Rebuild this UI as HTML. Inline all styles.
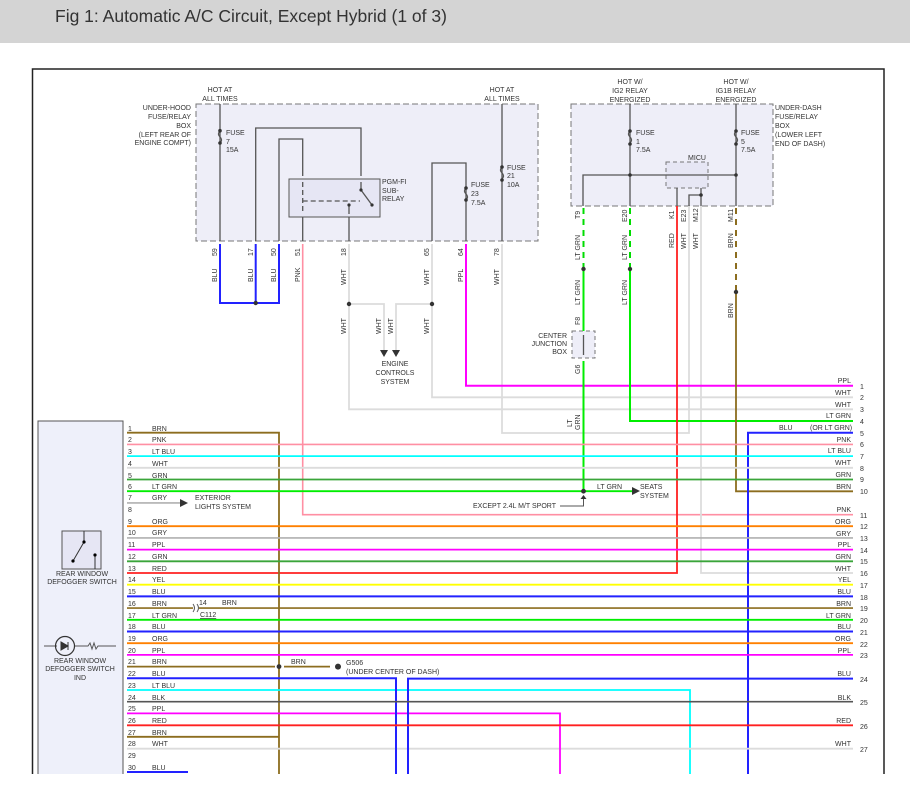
<!DOCTYPE html>
<html><head><meta charset="utf-8"><style>
body{margin:0;background:#fff;width:910px;height:808px;overflow:hidden}
svg{display:block}
text{font-family:"Liberation Sans",sans-serif;font-size:7px;fill:#333}
</style></head><body>
<svg width="910" height="808" viewBox="0 0 910 808">
<rect x="0" y="0" width="910" height="43" fill="#d4d4d4"/>
<text x="55" y="22" style="font-size:17.5px;fill:#333">Fig 1: Automatic A/C Circuit, Except Hybrid (1 of 3)</text>
<path d="M32.5 775V69H884V775" fill="none" stroke="#222" stroke-width="1.5"/>

<!-- boxes -->
<rect x="196" y="104" width="342" height="137" fill="#eeeef8" stroke="#777" stroke-dasharray="6,3"/>
<rect x="571" y="104" width="202" height="102" fill="#eeeef8" stroke="#777" stroke-dasharray="6,3"/>
<rect x="289" y="179" width="91" height="38" fill="#e6e6f4" stroke="#555"/>
<rect x="666" y="162" width="42" height="26" fill="#e6e6f4" stroke="#777" stroke-dasharray="4,3"/>
<rect x="572" y="331" width="23" height="27" fill="#eeeef8" stroke="#777" stroke-dasharray="4,3"/>
<rect x="38" y="421" width="85" height="360" fill="#eef0fa" stroke="#555"/>

<g fill="none" stroke-width="1.3">
<path d="M220 104V241M255.7 241V128H361V176M279 241V139H302.7V176M302.7 217V241M349 217V241M432 241V163H466V241M502 104V241" stroke="#555"/>
<path d="M630 104V206M583 206V175H736M736 104V206M708 175H736M677 188V206M701 188V206M689 206V195H701" stroke="#555"/>
<path d="M583.5 335V355" stroke="#555"/>
<path d="M220 244V303H279V244M255.7 244V303" stroke="#2222ff" stroke-width="2"/>
<path d="M302.7 244V514.7H853" stroke="#ff8fa3" stroke-width="1.6"/>
<path d="M349 244V409.3H853M349 304H384V350M432 244V397.3H853M432 304H396V350M502 244V433H689V206M701 206V573H853" stroke="#dcdcdc" stroke-width="1.8"/>
<path d="M466 244V385.7H853" stroke="#ff00ff" stroke-width="2"/>
<path d="M583.5 208V269M630 208V269" stroke="#00dd00" stroke-width="2" stroke-dasharray="6,5"/>
<path d="M736 208V292" stroke="#8c6d1f" stroke-width="2" stroke-dasharray="6,5"/>
<path d="M583.5 269V331M583.5 361V491M630 269V421H853" stroke="#00ee00" stroke-width="2"/>
<path d="M736 292V491.3H853" stroke="#8c6d1f" stroke-width="1.8"/>
<path d="M853 432.7H748V775" stroke="#2222ff" stroke-width="2"/>
<path d="M677 206V573H127" stroke="#ff2020" stroke-width="1.8"/>
<path d="M127 432.7H279V775M127 736.8H279M127 666.6H275M284 666.6H330" stroke="#8c6d1f" stroke-width="1.8"/>
<path d="M127 444.4H853" stroke="#ff8fa3" stroke-width="1.6"/>
<path d="M127 456.1H853M127 690H690V775" stroke="#00ffff" stroke-width="1.8"/>
<path d="M127 467.8H853M127 748.7H853" stroke="#dcdcdc" stroke-width="1.8"/>
<path d="M127 479.5H853M127 561.3H853" stroke="#3aa53a" stroke-width="1.8"/>
<path d="M127 491.2H632M127 619.8H853" stroke="#00ee00" stroke-width="1.8"/>
<path d="M127 502.9H180M127 537.9H853" stroke="#b0b0b0" stroke-width="1.6"/>
<path d="M127 526.2H853M127 643.2H853" stroke="#ff8000" stroke-width="1.8"/>
<path d="M127 549.6H853M127 654.9H853M127 713.4H560V775" stroke="#ff00ff" stroke-width="1.8"/>
<path d="M127 584.7H853" stroke="#ffff00" stroke-width="1.8"/>
<path d="M127 596.4H853M127 631.5H853M127 678.3H396V775M408 775V678.6H853M127 772H188" stroke="#2222ff" stroke-width="2"/>
<path d="M127 608.1H193M199 608.1H853" stroke="#8c6d1f" stroke-width="1.6"/>
<path d="M127 701.7H853" stroke="#555" stroke-width="1.6"/>
<path d="M127 725.3H853" stroke="#ff2020" stroke-width="1.8"/>
<path d="M560 506H583.5V496" stroke="#555" stroke-width="1"/>
<path d="M302.7 182V214M302.7 201H360" stroke="#555" stroke-dasharray="5,3"/>
<path d="M361 182V190L372 205M349 205V214" stroke="#555"/>
<path d="M220 131q-3 3 0 6q3 3 0 6M630 131q-3 3 0 6q3 3 0 6M736 131q-3 3 0 6q3 3 0 6M466 188q-3 3 0 6q3 3 0 6M502 167q-3 3 0 6q3 3 0 6" stroke="#555" stroke-width="1.3"/>
<path d="M193 604q3 4 0 8M197 604q3 4 0 8" stroke="#555" stroke-width="1"/>
</g>
<g fill="#333">
<circle cx="220" cy="130.7" r="1.8"/><circle cx="220" cy="143" r="1.8"/>
<circle cx="630" cy="131" r="1.8"/><circle cx="630" cy="144" r="1.8"/>
<circle cx="736" cy="131" r="1.8"/><circle cx="736" cy="144" r="1.8"/>
<circle cx="466" cy="188" r="1.8"/><circle cx="466" cy="200" r="1.8"/>
<circle cx="502" cy="167" r="1.8"/><circle cx="502" cy="180" r="1.8"/>
<circle cx="630" cy="175" r="1.8"/><circle cx="736" cy="175" r="1.8"/><circle cx="701" cy="195" r="1.8"/>
<circle cx="255.7" cy="303" r="2.2"/><circle cx="349" cy="304" r="2.2"/><circle cx="432" cy="304" r="2.2"/>
<circle cx="583.5" cy="269" r="2.2"/><circle cx="630" cy="269" r="2.2"/><circle cx="736" cy="292" r="2.2"/>
<circle cx="583.5" cy="491.2" r="2.4"/><circle cx="279" cy="666.6" r="2.4"/><circle cx="338" cy="666.6" r="3"/>
<circle cx="361" cy="190" r="1.6"/><circle cx="372" cy="205" r="1.6"/><circle cx="349" cy="205" r="1.6"/>
<path d="M380 350h8l-4 7zM392 350h8l-4 7zM632 487v8l8-4zM180 499v8l8-4zM580.5 499h6l-3 -4z"/>
</g>

<rect x="62" y="531" width="39" height="38" fill="#e6e6f4" stroke="#555"/>
<path d="M84 531V542L73 561M95 569V555" stroke="#333" fill="none"/>
<circle cx="84" cy="542" r="1.6"/><circle cx="73" cy="561" r="1.6"/><circle cx="95" cy="555" r="1.6"/>
<text x="82" y="576" text-anchor="middle">REAR WINDOW</text>
<text x="82" y="584" text-anchor="middle">DEFOGGER SWITCH</text>
<path d="M44 646H57M74 646H88l2-3 2 6 2-6 2 6 2-3H116" stroke="#555" fill="none"/>
<circle cx="65" cy="646" r="9.5" fill="none" stroke="#333" stroke-width="1.2"/>
<path d="M61 642v8l7-4zM68 642v8" fill="#333" stroke="#333"/>
<text x="80" y="663" text-anchor="middle">REAR WINDOW</text>
<text x="80" y="671" text-anchor="middle">DEFOGGER SWITCH</text>
<text x="80" y="680" text-anchor="middle">IND</text>

<g text-anchor="middle">
<text x="220" y="92">HOT AT</text><text x="220" y="101">ALL TIMES</text>
<text x="502" y="92">HOT AT</text><text x="502" y="101">ALL TIMES</text>
<text x="630" y="84">HOT W/</text><text x="630" y="93">IG2 RELAY</text><text x="630" y="102">ENERGIZED</text>
<text x="736" y="84">HOT W/</text><text x="736" y="93">IG1B RELAY</text><text x="736" y="102">ENERGIZED</text>
<text x="395" y="366">ENGINE</text><text x="395" y="375">CONTROLS</text><text x="395" y="384">SYSTEM</text>
<text x="697" y="160">MICU</text>
</g>
<g text-anchor="end">
<text x="191" y="110">UNDER-HOOD</text><text x="191" y="119">FUSE/RELAY</text><text x="191" y="128">BOX</text>
<text x="191" y="137">(LEFT REAR OF</text><text x="191" y="145">ENGINE COMPT)</text>
<text x="567" y="338">CENTER</text><text x="567" y="346">JUNCTION</text><text x="567" y="354">BOX</text>
<text x="556" y="508">EXCEPT 2.4L M/T SPORT</text>
</g>
<text x="775" y="110">UNDER-DASH</text><text x="775" y="119">FUSE/RELAY</text><text x="775" y="128">BOX</text>
<text x="775" y="137">(LOWER LEFT</text><text x="775" y="146">END OF DASH)</text>
<text x="226" y="135">FUSE</text><text x="226" y="144">7</text><text x="226" y="152">15A</text>
<text x="636" y="135">FUSE</text><text x="636" y="144">1</text><text x="636" y="152">7.5A</text>
<text x="741" y="135">FUSE</text><text x="741" y="144">5</text><text x="741" y="152">7.5A</text>
<text x="471" y="187">FUSE</text><text x="471" y="196">23</text><text x="471" y="205">7.5A</text>
<text x="507" y="170">FUSE</text><text x="507" y="178">21</text><text x="507" y="187">10A</text>
<text x="382" y="184">PGM-FI</text><text x="382" y="193">SUB-</text><text x="382" y="201">RELAY</text>
<text x="195" y="500">EXTERIOR</text><text x="195" y="509">LIGHTS SYSTEM</text>
<text x="640" y="489">SEATS</text><text x="640" y="498">SYSTEM</text>
<text x="597" y="489">LT GRN</text>
<text x="291" y="664">BRN</text>
<text x="346" y="665">G506</text><text x="346" y="674">(UNDER CENTER OF DASH)</text>
<text x="199" y="605">14</text><text x="222" y="605">BRN</text>
<text x="200" y="617" text-decoration="underline">C112</text>
<text x="779" y="430">BLU</text><text x="810" y="430">(OR LT GRN)</text>

<g>
<text transform="translate(217,256) rotate(-90)">59</text>
<text transform="translate(217,282) rotate(-90)">BLU</text>
<text transform="translate(253,256) rotate(-90)">17</text>
<text transform="translate(253,282) rotate(-90)">BLU</text>
<text transform="translate(276,256) rotate(-90)">50</text>
<text transform="translate(276,282) rotate(-90)">BLU</text>
<text transform="translate(300,256) rotate(-90)">51</text>
<text transform="translate(300,282) rotate(-90)">PNK</text>
<text transform="translate(346,256) rotate(-90)">18</text>
<text transform="translate(346,285) rotate(-90)">WHT</text>
<text transform="translate(429,256) rotate(-90)">65</text>
<text transform="translate(429,285) rotate(-90)">WHT</text>
<text transform="translate(463,256) rotate(-90)">64</text>
<text transform="translate(463,282) rotate(-90)">PPL</text>
<text transform="translate(499,256) rotate(-90)">78</text>
<text transform="translate(499,285) rotate(-90)">WHT</text>
<text transform="translate(346,334) rotate(-90)">WHT</text>
<text transform="translate(381,334) rotate(-90)">WHT</text>
<text transform="translate(393,334) rotate(-90)">WHT</text>
<text transform="translate(429,334) rotate(-90)">WHT</text>
<text transform="translate(580,219) rotate(-90)">T9</text>
<text transform="translate(580,260) rotate(-90)">LT GRN</text>
<text transform="translate(580,305) rotate(-90)">LT GRN</text>
<text transform="translate(580,325) rotate(-90)">F8</text>
<text transform="translate(580,374) rotate(-90)">G6</text>
<text transform="translate(572,427) rotate(-90)">LT</text>
<text transform="translate(580,430) rotate(-90)">GRN</text>
<text transform="translate(627,222) rotate(-90)">E20</text>
<text transform="translate(627,260) rotate(-90)">LT GRN</text>
<text transform="translate(627,305) rotate(-90)">LT GRN</text>
<text transform="translate(674,219) rotate(-90)">K1</text>
<text transform="translate(674,248) rotate(-90)">RED</text>
<text transform="translate(686,222) rotate(-90)">E23</text>
<text transform="translate(686,249) rotate(-90)">WHT</text>
<text transform="translate(698,222) rotate(-90)">M12</text>
<text transform="translate(698,249) rotate(-90)">WHT</text>
<text transform="translate(733,222) rotate(-90)">M11</text>
<text transform="translate(733,248) rotate(-90)">BRN</text>
<text transform="translate(733,318) rotate(-90)">BRN</text>
</g>

<g>
<text x="128" y="431">1</text><text x="152" y="431">BRN</text>
<text x="128" y="442">2</text><text x="152" y="442">PNK</text>
<text x="128" y="454">3</text><text x="152" y="454">LT BLU</text>
<text x="128" y="466">4</text><text x="152" y="466">WHT</text>
<text x="128" y="478">5</text><text x="152" y="478">GRN</text>
<text x="128" y="489">6</text><text x="152" y="489">LT GRN</text>
<text x="128" y="500">7</text><text x="152" y="500">GRY</text>
<text x="128" y="512">8</text>
<text x="128" y="524">9</text><text x="152" y="524">ORG</text>
<text x="128" y="535">10</text><text x="152" y="535">GRY</text>
<text x="128" y="547">11</text><text x="152" y="547">PPL</text>
<text x="128" y="559">12</text><text x="152" y="559">GRN</text>
<text x="128" y="571">13</text><text x="152" y="571">RED</text>
<text x="128" y="582">14</text><text x="152" y="582">YEL</text>
<text x="128" y="594">15</text><text x="152" y="594">BLU</text>
<text x="128" y="606">16</text><text x="152" y="606">BRN</text>
<text x="128" y="618">17</text><text x="152" y="618">LT GRN</text>
<text x="128" y="629">18</text><text x="152" y="629">BLU</text>
<text x="128" y="641">19</text><text x="152" y="641">ORG</text>
<text x="128" y="653">20</text><text x="152" y="653">PPL</text>
<text x="128" y="664">21</text><text x="152" y="664">BRN</text>
<text x="128" y="676">22</text><text x="152" y="676">BLU</text>
<text x="128" y="688">23</text><text x="152" y="688">LT BLU</text>
<text x="128" y="700">24</text><text x="152" y="700">BLK</text>
<text x="128" y="711">25</text><text x="152" y="711">PPL</text>
<text x="128" y="723">26</text><text x="152" y="723">RED</text>
<text x="128" y="735">27</text><text x="152" y="735">BRN</text>
<text x="128" y="746">28</text><text x="152" y="746">WHT</text>
<text x="128" y="758">29</text>
<text x="128" y="770">30</text><text x="152" y="770">BLU</text>
</g>
<g text-anchor="end">
<text x="851" y="383">PPL</text><text x="851" y="395">WHT</text><text x="851" y="407">WHT</text>
<text x="851" y="418">LT GRN</text><text x="851" y="442">PNK</text><text x="851" y="453">LT BLU</text>
<text x="851" y="465">WHT</text><text x="851" y="477">GRN</text><text x="851" y="489">BRN</text>
<text x="851" y="512">PNK</text><text x="851" y="524">ORG</text><text x="851" y="536">GRY</text>
<text x="851" y="547">PPL</text><text x="851" y="559">GRN</text><text x="851" y="571">WHT</text>
<text x="851" y="582">YEL</text><text x="851" y="594">BLU</text><text x="851" y="606">BRN</text>
<text x="851" y="618">LT GRN</text><text x="851" y="629">BLU</text><text x="851" y="641">ORG</text>
<text x="851" y="653">PPL</text><text x="851" y="676">BLU</text><text x="851" y="700">BLK</text>
<text x="851" y="723">RED</text><text x="851" y="746">WHT</text>
</g>
<g>
<text x="860" y="389">1</text><text x="860" y="400">2</text><text x="860" y="412">3</text>
<text x="860" y="424">4</text><text x="860" y="436">5</text><text x="860" y="447">6</text>
<text x="860" y="459">7</text><text x="860" y="471">8</text><text x="860" y="482">9</text>
<text x="860" y="494">10</text><text x="860" y="518">11</text><text x="860" y="529">12</text>
<text x="860" y="541">13</text><text x="860" y="553">14</text><text x="860" y="564">15</text>
<text x="860" y="576">16</text><text x="860" y="588">17</text><text x="860" y="600">18</text>
<text x="860" y="611">19</text><text x="860" y="623">20</text><text x="860" y="635">21</text>
<text x="860" y="647">22</text><text x="860" y="658">23</text><text x="860" y="682">24</text>
<text x="860" y="705">25</text><text x="860" y="729">26</text><text x="860" y="752">27</text>
</g>
<rect x="0" y="774" width="910" height="34" fill="#fff"/>
</svg>
</body></html>
